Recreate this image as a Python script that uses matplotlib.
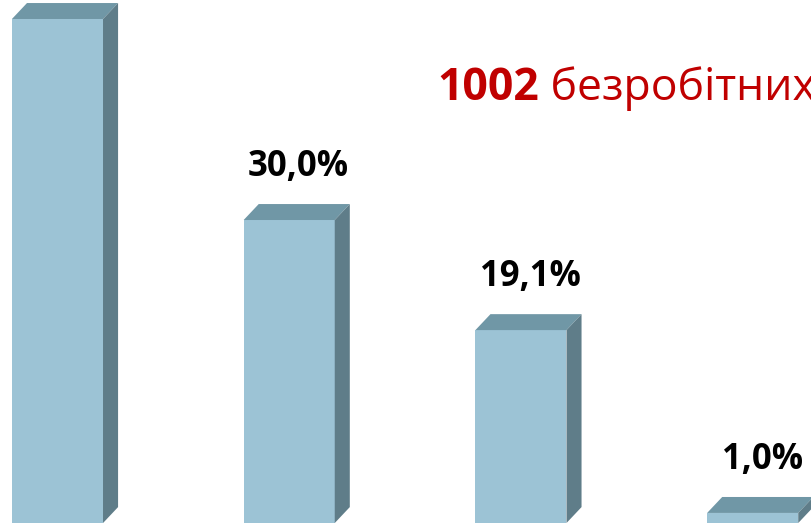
import matplotlib
matplotlib.use('Agg')
import matplotlib.pyplot as plt
from matplotlib.patches import Polygon

# data
values = [49.9, 30.0, 19.1, 1.0]
labels = ['49,9%', '30,0%', '19,1%', '1,0%']
title_num = '1002'
title_txt = ' безробітних'

front_col = '#9CC3D5'
top_col = '#7097A6'
side_col = '#5F7D89'

plt.rcParams['font.family'] = ['Open Sans', 'DejaVu Sans']

fig = plt.figure(figsize=(8.12, 5.29), dpi=100)
ax = fig.add_axes([0, 0, 1, 1])
ax.set_xlim(-0.248, 3.256)
ax.set_ylim(-0.59, 51.78)
ax.axis('off')

w = 0.393
dx = 0.065
dy = 1.58
xs = list(range(len(values)))

ax.bar(xs, values, width=w, color=front_col, linewidth=0, zorder=2)
for x, v, lab in zip(xs, values, labels):
    l, r = x - w / 2, x + w / 2
    ax.add_patch(Polygon([(l, v), (r, v), (r + dx, v + dy), (l + dx, v + dy)],
                         closed=True, facecolor=top_col, edgecolor='none', zorder=2))
    ax.add_patch(Polygon([(r, 0), (r + dx, dy), (r + dx, v + dy), (r, v)],
                         closed=True, facecolor=side_col, edgecolor='none', zorder=2))
    ax.annotate(lab, (x + dx / 2, v + dy), xytext=(2, 28), textcoords='offset pixels',
                ha='center', va='baseline', fontsize=25, fontweight='bold', color='black')

t = ax.text(437, 529 - 100, title_num, transform=None, fontsize=32,
            fontweight='bold', color='#C00000', va='baseline', ha='left')
fig.canvas.draw()
bb = t.get_window_extent()
ax.text(bb.x1, 529 - 100, title_txt, transform=None, fontsize=32,
        color='#C00000', va='baseline', ha='left')

fig.savefig('out.png', dpi=100)
